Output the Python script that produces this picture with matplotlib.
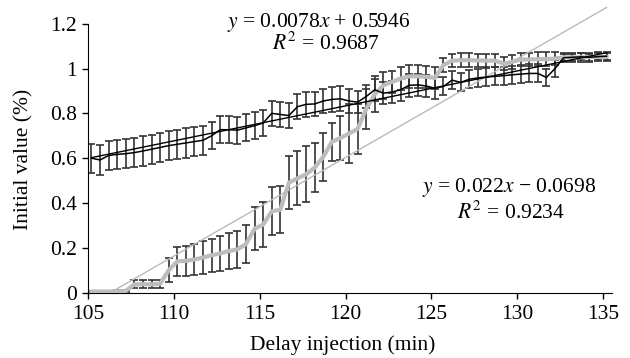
import matplotlib
matplotlib.use('Agg')
import matplotlib.pyplot as plt
import numpy as np

# sampling every 0.5 min
t_start = 105.2
t_step = 0.5

# upper series (black) and its error
upper = [0.600, 0.592, 0.612, 0.617, 0.620, 0.625, 0.632, 0.640, 0.648, 0.656,
         0.662, 0.668, 0.674, 0.680, 0.700, 0.727, 0.727, 0.725, 0.735, 0.745,
         0.757, 0.800, 0.795, 0.790, 0.830, 0.840, 0.842, 0.855, 0.862, 0.865,
         0.855, 0.850, 0.875, 0.905, 0.890, 0.895, 0.905, 0.925, 0.927, 0.922,
         0.912, 0.920, 0.948, 0.938, 0.952, 0.958, 0.962, 0.965, 0.968, 0.972,
         0.975, 0.978, 0.978, 0.960, 1.000, 1.048, 1.050, 1.052, 1.050, 1.053,
         1.055]
upper_err = [0.065]*14 + [0.06]*7 + [0.055]*10 + [0.05]*10 + [0.04]*14 + [0.015]*6

# lower series (grey) and its error
lower = [0.005, 0.005, 0.005, 0.006, 0.008, 0.037, 0.038, 0.037, 0.040, 0.100,
         0.140, 0.142, 0.148, 0.157, 0.167, 0.175, 0.186, 0.193, 0.217, 0.285,
         0.304, 0.363, 0.370, 0.491, 0.510, 0.528, 0.558, 0.606, 0.673, 0.690,
         0.710, 0.730, 0.820, 0.885, 0.925, 0.940, 0.955, 0.965, 0.965, 0.963,
         0.958, 1.015, 1.035, 1.037, 1.037, 1.036, 1.035, 1.035, 1.022, 1.030,
         1.040, 1.040, 1.042, 1.042, 1.044, 1.050, 1.050, 1.050, 1.051, 1.052,
         1.052]
lower_err = [0.004]*5 + [0.018]*4 + [0.053, 0.066, 0.068, 0.069, 0.072, 0.074,
             0.077, 0.08, 0.082, 0.085, 0.096, 0.1, 0.107, 0.105, 0.118, 0.12,
             0.125, 0.11, 0.107, 0.085, 0.096, 0.13, 0.11, 0.09, 0.08, 0.06,
             0.05, 0.05, 0.05, 0.05, 0.05, 0.05] + [0.03]*14 + [0.02]*6

# linear trend coefficients (x = point number)
upper_fit = (0.0078, 0.5946)
lower_fit = (0.022, -0.0698)

plt.rcParams['font.family'] = 'Liberation Serif'
plt.rcParams['mathtext.fontset'] = 'stix'
fs = 15.5

t = t_start + t_step*np.arange(len(upper))
n = np.arange(1, len(upper)+1)

fig = plt.figure(figsize=(6.3, 3.58), dpi=100)
ax = fig.add_axes([0.1397, 0.1824, 0.971-0.1397, 0.984-0.1824])

ax.errorbar(t, lower, yerr=lower_err, fmt='none', ecolor='#333333', elinewidth=1.2,
            capsize=2.6, capthick=1.2, zorder=2)
ax.errorbar(t, upper, yerr=upper_err, fmt='none', ecolor='#333333', elinewidth=1.2,
            capsize=2.6, capthick=1.2, zorder=2)
ax.plot(t, lower, color='#bdbdbd', linewidth=3, zorder=3)
ax.plot(t, upper, color='black', linewidth=1.1, zorder=4)
ax.plot(t, lower_fit[0]*n + lower_fit[1], color='#bbbbbb', linewidth=1, zorder=3)
ax.plot(t, upper_fit[0]*n + upper_fit[1], color='black', linewidth=1, zorder=4)

ax.set_xlim(105, 135.5)
ax.set_ylim(0, 1.28)
ax.set_xticks([105, 110, 115, 120, 125, 130, 135])
ax.set_yticks([0, 0.2, 0.4, 0.6, 0.8, 1.0, 1.2])
ax.set_yticklabels(['0', '0.2', '0.4', '0.6', '0.8', '1', '1.2'])
ax.spines['top'].set_visible(False)
ax.spines['right'].set_visible(False)
ax.spines['left'].set_bounds(0, 1.2)
ax.tick_params(labelsize=fs, direction='out', length=4, width=1)
ax.tick_params(axis='x', pad=5)
ax.tick_params(axis='y', pad=4)
ax.set_xlabel('Delay injection (min)', fontsize=fs)
ax.set_ylabel('Initial value (%)', fontsize=fs)
ax.xaxis.set_label_coords(0.487, -0.147)
ax.yaxis.set_label_coords(-0.105, 0.465)

ax.text(0.441, 0.927, '$y$ = 0.0078$x$ + 0.5946', transform=ax.transAxes, fontsize=fs,
        ha='center', va='baseline')
ax.text(0.454, 0.846, '$R^2$ = 0.9687', transform=ax.transAxes, fontsize=fs,
        ha='center', va='baseline')
ax.text(0.804, 0.352, '$y$ = 0.022$x$ \u2212 0.0698', transform=ax.transAxes, fontsize=fs,
        ha='center', va='baseline')
ax.text(0.808, 0.259, '$R^2$ = 0.9234', transform=ax.transAxes, fontsize=fs,
        ha='center', va='baseline')

plt.savefig('out.png', dpi=100)
